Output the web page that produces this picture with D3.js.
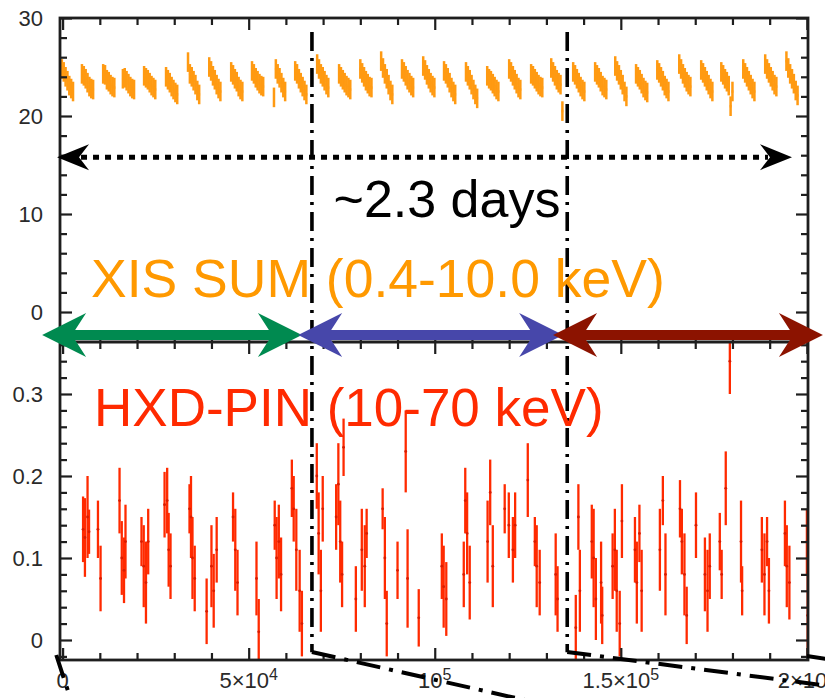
<!DOCTYPE html>
<html>
<head>
<meta charset="utf-8">
<script src="https://cdn.jsdelivr.net/npm/d3@7"></script>
<style>
  html, body { margin: 0; padding: 0; background: #fff; overflow: hidden; }
  svg { display: block; font-family: "Liberation Sans", Arial, Helvetica, sans-serif; }
</style>
</head>
<body>
<div id="chart"></div>
<script>
// XIS SUM light curve: orbit centre times (s), 7 bins of xisBin s per orbit
const xisOrbitTime = [1300, 6700, 12400, 17700, 23400, 29300, 35200, 40900, 46800, 52400,
  58300, 64000, 69900, 75800, 81500, 87100, 92700, 98400, 104000, 109900,
  115600, 121500, 127400, 132800, 138700, 144600, 150000, 155600, 161300, 167200,
  173100, 178500, 184400, 190300, 196000];
const xisBin = 500;
const xisErr = 1.0;
const xisRate = [
  [24.8, 24.5, 24.0, 23.6, 23.1, 22.8, 22.5],
  [24.3, 24.1, 23.8, 23.4, 23.0, 22.8, 22.7],
  [24.3, 24.2, 23.7, 23.5, 23.2, 23.0, 22.9],
  [23.8, 23.9, 23.6, 23.3, 23.0, 22.8, 22.7],
  [24.1, 23.9, 23.7, 23.4, 23.1, 22.9, 22.7],
  [24.0, 23.7, 23.4, 23.0, 22.7, 22.4, 22.2],
  [25.5, 24.3, 24.0, 23.6, 23.2, 22.6, 22.2],
  [25.0, 24.6, 24.1, 23.7, 23.2, 22.8, 22.5],
  [24.5, 24.2, 23.8, 23.5, 23.0, 22.7, 22.5],
  [24.6, 24.3, 23.9, 23.6, 23.3, 23.1, 23.0],
  [21.9, 24.8, 24.3, 23.9, 23.4, 22.9, 22.5],
  [24.6, 24.3, 23.8, 23.4, 23.0, 22.6, 22.2],
  [25.3, 24.8, 24.3, 24.0, 23.6, 23.2, 22.9],
  [24.3, 24.0, 23.7, 23.4, 23.1, 22.9, 22.7],
  [24.8, 24.4, 24.0, 23.6, 23.3, 23.0, 22.9],
  [25.6, 24.9, 24.3, 23.8, 23.2, 22.6, 22.2],
  [24.8, 24.5, 24.1, 23.7, 23.4, 23.1, 22.9],
  [25.1, 24.7, 24.2, 23.8, 23.4, 23.1, 22.9],
  [24.6, 24.3, 23.9, 23.4, 22.9, 22.5, 22.2],
  [24.5, 24.1, 23.7, 23.2, 22.7, 22.2, 21.8],
  [24.1, 23.8, 23.6, 23.3, 23.0, 22.7, 22.5],
  [24.8, 24.5, 24.1, 23.7, 23.3, 22.9, 22.7],
  [24.3, 24.1, 23.8, 23.5, 23.2, 23.0, 22.9],
  [24.9, 24.5, 24.1, 23.7, 23.4, 23.2, 20.5],
  [24.5, 24.2, 23.8, 23.4, 23.0, 22.7, 22.5],
  [24.5, 24.2, 23.9, 23.5, 23.1, 22.9, 22.7],
  [25.1, 24.6, 24.2, 23.7, 23.2, 22.5, 22.0],
  [24.3, 24.0, 23.7, 23.3, 22.9, 22.6, 22.4],
  [24.7, 24.4, 24.0, 23.6, 23.1, 22.8, 22.5],
  [25.3, 24.8, 24.3, 23.9, 23.5, 23.2, 23.0],
  [24.7, 24.4, 24.0, 23.6, 23.2, 22.8, 22.5],
  [24.5, 24.2, 23.8, 23.5, 23.1, 21.0, 22.5],
  [24.8, 24.4, 24.0, 23.6, 23.2, 22.8, 22.5],
  [25.3, 24.8, 24.4, 24.0, 23.6, 23.2, 23.0],
  [25.6, 24.9, 24.3, 23.8, 23.3, 22.6, 22.1]
];

// HXD-PIN light curve
const pinTime = [5500, 6000, 6700, 7100, 9500, 10200, 15300, 15900, 16500, 16900,
  21200, 21800, 22400, 23000, 27400, 28100, 28500, 29000, 34100, 34500,
  34900, 35500, 38700, 40000, 40600, 41400, 45800, 46400, 47000, 52100,
  52700, 57000, 57500, 58100, 58700, 61600, 62100, 62800, 63700, 64300,
  68300, 68800, 69400, 69900, 73500, 74100, 74600, 75100, 75500, 78800,
  80400, 81200, 81700, 86000, 86600, 87100, 90000, 92200, 92700, 95700,
  101900, 102400, 103100, 107800, 108200, 108700, 109400, 114200, 114900, 115600,
  118800, 119900, 121000, 121600, 125000, 126900, 127400, 128200, 132500, 133000,
  137900, 138600, 139000, 142200, 142700, 143300, 144700, 145000, 147800, 148400,
  148900, 149700, 150300, 153800, 154300, 155000, 155600, 160500, 161300, 162000,
  165900, 166400, 167100, 167700, 170200, 172600, 173300, 173900, 176600, 177100,
  178200, 179300, 182300, 182600, 187900, 188600, 189300, 189800, 194100, 194600,
  195300, 200000, 200200];
const pinRate = [0.135, 0.125, 0.15, 0.132, 0.135, 0.075, 0.17, 0.10, 0.085, 0.12,
  0.12, 0.09, 0.07, 0.12, 0.165, 0.17, 0.11, 0.09, 0.16, 0.15,
  0.10, 0.075, 0.035, 0.09, 0.06, 0.11, 0.15, 0.11, 0.07, 0.075,
  0.01, 0.14, 0.10, 0.12, 0.08, 0.185, 0.16, 0.11, 0.06, 0.02,
  0.20, 0.13, 0.06, 0.16, 0.15, 0.19, 0.12, 0.08, 0.235, 0.05,
  0.11, 0.09, 0.13, 0.16, 0.10, 0.02, 0.085, 0.23, 0.075, 0.027,
  0.09, 0.065, 0.05, 0.08, 0.17, 0.13, 0.07, 0.12, 0.18, 0.09,
  0.16, 0.14, 0.11, 0.14, 0.195, 0.12, 0.09, 0.07, 0.08, 0.05,
  0.015, 0.15, 0.06, 0.12, 0.10, 0.05, 0.07, 0.03, 0.09, 0.11,
  0.06, 0.02, 0.145, 0.11, 0.07, 0.13, 0.06, 0.11, 0.17, 0.08,
  0.16, 0.12, 0.08, 0.03, 0.14, 0.08, 0.06, 0.09, 0.12, 0.08,
  0.185, 0.34, 0.12, 0.06, 0.11, 0.08, 0.12, 0.06, 0.13, 0.09,
  0.07, 0.12, 0.03];
const pinErr = [0.04, 0.048, 0.05, 0.027, 0.035, 0.04, 0.04, 0.045, 0.04, 0.045,
  0.03, 0.05, 0.05, 0.04, 0.04, 0.04, 0.045, 0.04, 0.03, 0.05,
  0.05, 0.04, 0.04, 0.05, 0.045, 0.04, 0.03, 0.05, 0.04, 0.045,
  0.04, 0.03, 0.05, 0.045, 0.045, 0.035, 0.04, 0.05, 0.05, 0.04,
  0.04, 0.05, 0.05, 0.04, 0.04, 0.05, 0.05, 0.04, 0.035, 0.04,
  0.05, 0.05, 0.03, 0.025, 0.05, 0.04, 0.035, 0.05, 0.06, 0.035,
  0.04, 0.05, 0.045, 0.04, 0.04, 0.05, 0.045, 0.05, 0.04, 0.05,
  0.03, 0.04, 0.04, 0.04, 0.045, 0.03, 0.05, 0.04, 0.05, 0.04,
  0.04, 0.04, 0.05, 0.045, 0.06, 0.05, 0.05, 0.035, 0.04, 0.05,
  0.05, 0.04, 0.045, 0.04, 0.05, 0.035, 0.05, 0.05, 0.03, 0.05,
  0.035, 0.04, 0.05, 0.035, 0.04, 0.045, 0.05, 0.04, 0.035, 0.03,
  0.045, 0.04, 0.05, 0.03, 0.04, 0.05, 0.03, 0.04, 0.04, 0.05,
  0.045, 0.04, 0.05];

// annotations (times in s)
const boundaryTime = [67000, 135600];
const segmentStart = [-5500, 63300, 131800];
const segmentEnd = [64300, 134500, 204300];
const spanStart = -1500, spanEnd = 196000;
const spanLabel = "~2.3 days";
const xisLabel = "XIS SUM (0.4-10.0 keV)";
const pinLabel = "HXD-PIN (10-70 keV)";

// ticks
const xTicks = [0, 50000, 100000, 150000, 200000];
const xTickBase = ["0", "5×10", "10", "1.5×10", "2×10"];
const xTickExp = ["", "4", "5", "5", "5"];
const topYTicks = [0, 10, 20, 30];
const botYTicks = [0, 0.1, 0.2, 0.3];

const W = 825, H = 698;
const pLeft = 60, pRight = 808, pTop = 18, pMid = 342, pBottom = 660;
const ink = "#1e1e1e";
const xisColor = "#ff9a12", pinColor = "#ff2a00";
const segmentColor = ["#008a50", "#4747aa", "#8c1300"];

const svg = d3.select("#chart").append("svg")
  .attr("width", W).attr("height", H)
  .attr("viewBox", [0, 0, W, H]);

const x = d3.scaleLinear().domain([-700, 200300]).range([pLeft, pRight]);
const yTop = d3.scaleLinear().domain([-3.06, 30]).range([pMid, pTop]);
const yBot = d3.scaleLinear().domain([-0.0244, 0.3634]).range([pBottom, pMid]);

const defs = svg.append("defs");
defs.append("clipPath").attr("id", "clipTop").append("rect")
  .attr("x", pLeft).attr("y", pTop).attr("width", pRight - pLeft).attr("height", pMid - pTop);
defs.append("clipPath").attr("id", "clipBot").append("rect")
  .attr("x", pLeft).attr("y", pMid).attr("width", pRight - pLeft).attr("height", pBottom - pMid);

// data: XIS
const xisPoints = [];
xisOrbitTime.forEach((tc, i) => {
  xisRate[i].forEach((r, j) => xisPoints.push({ t: tc + (j - 3) * xisBin, r }));
});

const gx = svg.append("g").attr("clip-path", "url(#clipTop)")
  .attr("stroke", xisColor).attr("stroke-width", 2.5);
gx.selectAll("line.v").data(xisPoints).join("line").attr("class", "v")
  .attr("x1", d => x(d.t)).attr("x2", d => x(d.t))
  .attr("y1", d => yTop(d.r - xisErr)).attr("y2", d => yTop(d.r + xisErr));
gx.selectAll("line.h").data(xisPoints).join("line").attr("class", "h")
  .attr("x1", d => x(d.t - xisBin / 2)).attr("x2", d => x(d.t + xisBin / 2))
  .attr("y1", d => yTop(d.r)).attr("y2", d => yTop(d.r));

// data: PIN
const pinPoints = pinTime.map((t, i) => ({ t, r: pinRate[i], e: pinErr[i] }));
const gp = svg.append("g").attr("clip-path", "url(#clipBot)");
gp.selectAll("line.v").data(pinPoints).join("line").attr("class", "v")
  .attr("stroke", pinColor).attr("stroke-width", 2.3)
  .attr("x1", d => x(d.t)).attr("x2", d => x(d.t))
  .attr("y1", d => yBot(d.r - d.e)).attr("y2", d => yBot(d.r + d.e));
gp.selectAll("circle").data(pinPoints).join("circle")
  .attr("fill", "#d81c00")
  .attr("cx", d => x(d.t)).attr("cy", d => yBot(d.r)).attr("r", 1.4);

// frames and ticks
function isMajor(d, step) {
  return Math.abs(d / step - Math.round(d / step)) < 1e-6;
}
function tickSet(domain, minor) {
  const a = Math.ceil(domain[0] / minor - 1e-9), b = Math.floor(domain[1] / minor + 1e-9);
  return d3.range(a, b + 1).map(i => +(i * minor).toFixed(4));
}
function styleAxis(g) {
  g.select(".domain").remove();
  g.selectAll(".tick line").attr("stroke", ink).attr("stroke-width", 2.2);
  g.selectAll(".tick text").attr("fill", "#2a2a2a").attr("font-size", 22)
    .attr("font-family", "Liberation Sans, Arial, sans-serif");
}

function panelY(y, major, minor, labels) {
  const vals = tickSet(y.domain(), minor);
  const fmt = d => {
    const k = labels.findIndex(v => Math.abs(v - d) < 1e-6);
    return k >= 0 ? String(labels[k]) : "";
  };
  svg.append("g").attr("transform", `translate(${pLeft},0)`)
    .call(d3.axisLeft(y).tickValues(vals).tickSize(-12).tickPadding(17).tickFormat(fmt))
    .call(styleAxis)
    .call(g => g.selectAll(".tick line").attr("x2", d => isMajor(d, major) ? 12 : 7));
  svg.append("g").attr("transform", `translate(${pRight},0)`)
    .call(d3.axisRight(y).tickValues(vals).tickSize(-12).tickFormat(""))
    .call(styleAxis)
    .call(g => g.selectAll(".tick line").attr("x2", d => isMajor(d, major) ? -12 : -7));
}
panelY(yTop, 10, 2, topYTicks);
panelY(yBot, 0.1, 0.02, botYTicks);

const xVals = tickSet([0, 200000], 10000);
function panelX(yPos, dir) {
  svg.append("g").attr("transform", `translate(0,${yPos})`)
    .call(d3.axisBottom(x).tickValues(xVals).tickSize(0).tickFormat(""))
    .call(styleAxis)
    .call(g => g.selectAll(".tick line")
      .attr("y2", d => dir * (isMajor(d, 50000) ? 12 : 7)));
}
panelX(pTop, 1);
panelX(pMid, -1);
panelX(pMid, 1);
panelX(pBottom, -1);

// frame lines
const frame = svg.append("g").attr("fill", "none").attr("stroke", ink).attr("stroke-width", 2.8);
frame.append("rect").attr("x", pLeft).attr("y", pTop).attr("width", pRight - pLeft).attr("height", pBottom - pTop);
frame.append("line").attr("x1", pLeft).attr("x2", pRight).attr("y1", pMid).attr("y2", pMid);

// x tick labels with superscripts
const xl = svg.append("g").attr("fill", "#2a2a2a").attr("font-size", 22).attr("text-anchor", "middle");
xTicks.forEach((t, i) => {
  const txt = xl.append("text").attr("x", x(t)).attr("y", pBottom + 28);
  txt.append("tspan").text(xTickBase[i]);
  if (xTickExp[i]) txt.append("tspan").attr("dy", -8).attr("font-size", 16).text(xTickExp[i]);
});

// boundary dash-dot lines
const dashStyle = g => g.attr("stroke", "#000").attr("stroke-width", 3.6).attr("fill", "none");
boundaryTime.forEach(t => {
  svg.append("line").call(dashStyle)
    .attr("stroke-dasharray", "19,7,3,7")
    .attr("x1", x(t)).attr("x2", x(t))
    .attr("y1", yTop(28.57)).attr("y2", yBot(-0.015));
});

// zoom guide lines towards panel below
const guides = [
  [x(-1700), pBottom - 5, 80, H + 30],
  [x(boundaryTime[0]), pBottom - 8, 560, H + 10],
  [x(boundaryTime[1]), pBottom - 8, 860, 690],
  [x(200000), pBottom - 4, 860, pBottom + 4]
];
guides.forEach(([x1, y1, x2, y2]) => {
  svg.append("line").call(dashStyle).attr("stroke-width", 4)
    .attr("stroke-dasharray", "24,9,4,9")
    .attr("x1", x1).attr("y1", y1).attr("x2", x2).attr("y2", y2);
});

// dotted double arrow spanning the observation
const ySpan = yTop(15.8);
const xs0 = x(spanStart), xs1 = x(spanEnd);
svg.append("line").attr("stroke", "#000").attr("stroke-width", 5)
  .attr("stroke-dasharray", "6,6")
  .attr("x1", xs0 + 24).attr("x2", xs1 - 24).attr("y1", ySpan).attr("y2", ySpan);
function head(tipX, y, dir, len, half, notch) {
  return `M${tipX},${y} L${tipX + dir * len},${y - half} L${tipX + dir * notch},${y} L${tipX + dir * len},${y + half} Z`;
}
svg.append("path").attr("fill", "#000").attr("d", head(xs0, ySpan, 1, 32, 13, 22));
svg.append("path").attr("fill", "#000").attr("d", head(xs1, ySpan, -1, 32, 13, 22));

svg.append("text").attr("x", 447).attr("y", 217).attr("text-anchor", "middle")
  .attr("font-size", 52).attr("fill", "#000").text(spanLabel);

// detector labels
svg.append("text").attr("x", 91).attr("y", 297)
  .attr("font-size", 53.5).attr("fill", "#ff9900").text(xisLabel);
svg.append("text").attr("x", 94).attr("y", 426)
  .attr("font-size", 53).attr("fill", pinColor).text(pinLabel);

// coloured segment arrows
const yArrow = yTop(-2.35);
function doubleArrow(x1, x2, y) {
  const L = 44, Hh = 22, N = 33, s = 5;
  return `M${x1},${y} L${x1 + L},${y - Hh} L${x1 + N},${y - s} L${x2 - N},${y - s} L${x2 - L},${y - Hh} ` +
    `L${x2},${y} L${x2 - L},${y + Hh} L${x2 - N},${y + s} L${x1 + N},${y + s} L${x1 + L},${y + Hh} Z`;
}
segmentStart.forEach((t0, i) => {
  svg.append("path").attr("fill", segmentColor[i])
    .attr("d", doubleArrow(x(t0), x(segmentEnd[i]), yArrow));
});
</script>
</body>
</html>
